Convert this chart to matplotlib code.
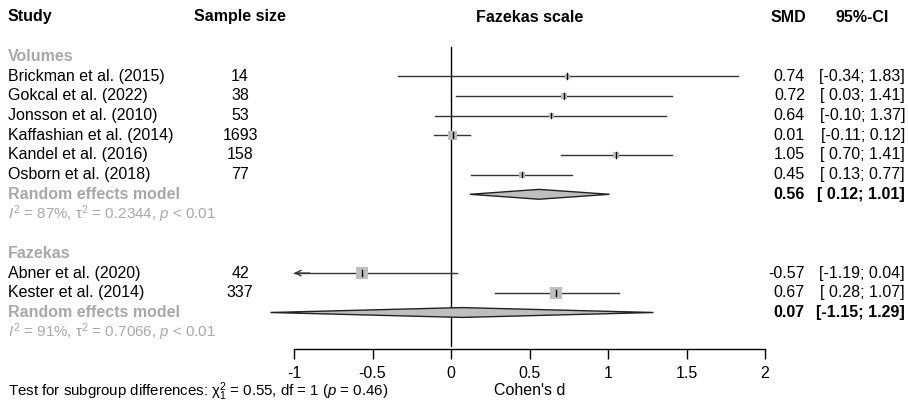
import matplotlib.pyplot as plt
import matplotlib.transforms as mtransforms

plt.rcParams['font.family'] = 'Liberation Sans'
plt.rcParams['mathtext.fontset'] = 'custom'
plt.rcParams['mathtext.rm'] = 'Liberation Sans'
plt.rcParams['mathtext.it'] = 'Liberation Sans:italic'
plt.rcParams['mathtext.bf'] = 'Liberation Sans:bold'

# Study data, by subgroup
vol_studies = ["Brickman et al. (2015)", "Gokcal et al. (2022)", "Jonsson et al. (2010)",
               "Kaffashian et al. (2014)", "Kandel et al. (2016)", "Osborn et al. (2018)"]
vol_n = [14, 38, 53, 1693, 158, 77]
vol_smd = [0.74, 0.72, 0.64, 0.01, 1.05, 0.45]
vol_lo = [-0.34, 0.03, -0.10, -0.11, 0.70, 0.13]
vol_hi = [1.83, 1.41, 1.37, 0.12, 1.41, 0.77]
vol_weight = [5, 6, 5, 9, 6, 6]
vol_pooled = (0.56, 0.12, 1.01)
vol_het = r"$\mathit{I}^2$ = 87%, $\mathrm{\tau}^2$ = 0.2344, $\mathit{p}$ < 0.01"

faz_studies = ["Abner et al. (2020)", "Kester et al. (2014)"]
faz_n = [42, 337]
faz_smd = [-0.57, 0.67]
faz_lo = [-1.19, 0.28]
faz_hi = [0.04, 1.07]
faz_weight = [12, 12]
faz_pooled = (0.07, -1.15, 1.29)
faz_het = r"$\mathit{I}^2$ = 91%, $\mathrm{\tau}^2$ = 0.7066, $\mathit{p}$ < 0.01"

x_ticks = [-1, -0.5, 0, 0.5, 1, 1.5, 2]
x_ticklabels = ["-1", "-0.5", "0", "0.5", "1", "1.5", "2"]

W, H = 908, 404
GREY = "#a8a8a8"
FILL = "#bebebe"
FS = 11.5

fig = plt.figure(figsize=(W / 100, H / 100), dpi=100)

# forest axes: x from -1 to 2, one row every 19.7 px
row_h = 19.7
y0 = 17
bottom_px = 349
ax = fig.add_axes([294 / W, 1 - bottom_px / H, (765 - 294) / W, bottom_px / H])
ax.set_xlim(-1, 2)
ax.set_ylim((bottom_px - y0) / row_h, -y0 / row_h)
for s in ["top", "right", "left"]:
    ax.spines[s].set_visible(False)
ax.spines["bottom"].set_linewidth(1)
ax.set_yticks([])
ax.set_xticks(x_ticks)
ax.set_xticklabels(x_ticklabels, fontsize=FS)
ax.tick_params(axis="x", direction="out", length=7.5, width=1, pad=5)
ax.set_xlabel("Cohen's d", fontsize=FS, labelpad=1)
ax.patch.set_alpha(0)

# column text: x in figure fraction, y in rows
tr = mtransforms.blended_transform_factory(fig.transFigure, ax.transData)


def col(xpx, row, s, ha="left", fs=FS, **kw):
    fig.text(xpx / W, row, s, transform=tr, ha=ha, va="center", fontsize=fs, **kw)


def fmt_ci(lo, hi):
    a = "{:.2f}".format(lo) if lo < 0 else " {:.2f}".format(lo)
    return "[{}; {:.2f}]".format(a, hi)


# headers
col(8, 0, "Study", weight="bold")
col(240, 0, "Sample size", ha="center", weight="bold")
ax.text(0.5, 0, "Fazekas scale", ha="center", va="center", fontsize=FS, weight="bold")
col(806, 0, "SMD", ha="right", weight="bold")
col(862, 0, "95%-CI", ha="center", weight="bold")

# zero line
ax.plot([0, 0], [1.5, 16.7], color="black", lw=1, clip_on=False)


def draw_group(start, title, studies, n, smd, lo, hi, weight, pooled, het):
    col(8, start, title, color=GREY, weight="bold")
    for i, name in enumerate(studies):
        r = start + 1 + i
        col(8, r, name)
        col(240, r, str(n[i]), ha="center")
        col(805, r, "{:.2f}".format(smd[i]), ha="right")
        col(905, r, fmt_ci(lo[i], hi[i]), ha="right")
        left = max(lo[i], -1)
        ax.plot([left, min(hi[i], 2)], [r, r], color="#333333", lw=1, clip_on=False, zorder=2)
        if lo[i] < -1:
            ax.annotate("", xy=(-1, r), xytext=(-0.9, r),
                        arrowprops=dict(arrowstyle="->", color="#333333", lw=1,
                                        shrinkA=0, shrinkB=0))
        ax.scatter([smd[i]], [r], marker="s", s=weight[i] ** 2 * 0.52, color=FILL,
                   edgecolor="none", zorder=3, clip_on=False)
        ax.plot([smd[i], smd[i]], [r - 0.14, r + 0.14], color="black", lw=1, zorder=4)
    r = start + 1 + len(studies)
    est, plo, phi = pooled
    col(8, r, "Random effects model", color=GREY, weight="bold")
    col(805, r, "{:.2f}".format(est), ha="right", weight="bold")
    col(905, r, fmt_ci(plo, phi), ha="right", weight="bold")
    ax.fill([plo, est, phi, est], [r, r - 0.25, r, r + 0.25], facecolor=FILL,
            edgecolor="#222222", lw=1, zorder=3, clip_on=False)
    col(8, r + 1, het, color=GREY, fs=10.9)


draw_group(2, "Volumes", vol_studies, vol_n, vol_smd, vol_lo, vol_hi, vol_weight,
           vol_pooled, vol_het)
draw_group(12, "Fazekas", faz_studies, faz_n, faz_smd, faz_lo, faz_hi, faz_weight,
           faz_pooled, faz_het)

col(8, (392 - y0) / row_h,
    r"Test for subgroup differences: χ$^2_1$ = 0.55, df = 1 ($\mathit{p}$ = 0.46)",
    fs=10.8)

fig.savefig("out.png", dpi=100)
